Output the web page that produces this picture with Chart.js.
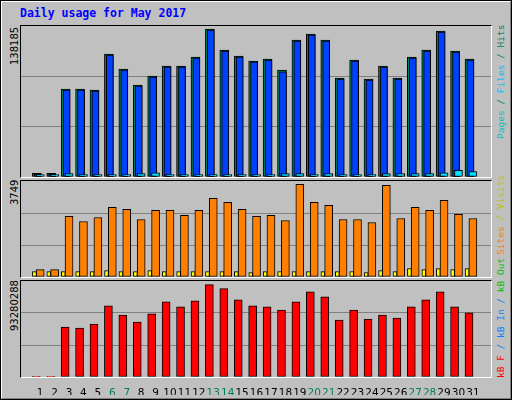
<!DOCTYPE html>
<html><head><meta charset="utf-8">
<script src="https://cdn.jsdelivr.net/npm/chart.js@4"></script>
<style>
body{margin:0;width:512px;height:400px;overflow:hidden;}
#wrap{position:absolute;left:0;top:0;width:508px;height:396px;background:#c0c0c0;border-top:2px solid #fff;border-left:2px solid #fff;border-right:2px solid #808080;border-bottom:2px solid #808080;outline:1px solid #000;outline-offset:-1px}
.panel{position:absolute;left:20px;width:470px;border-top:1px solid #000;border-left:1px solid #000;border-right:1px solid #fff;border-bottom:1px solid #fff}
canvas{position:absolute;}
.t{position:absolute;font-family:"DejaVu Sans Mono";font-weight:bold;font-size:11.5px;color:#0000ff;left:20px;top:6px}
.vl{position:absolute;font-family:"DejaVu Sans";font-size:10px;transform-origin:0 0;transform:rotate(-90deg);white-space:nowrap;color:#000}
.vr{position:absolute;font-family:"DejaVu Sans Mono";font-size:9.5px;transform-origin:0 0;transform:rotate(-90deg);white-space:nowrap}
</style></head><body>
<div id="wrap"></div>
<div class="t">Daily usage for May 2017</div>
<div class="panel" style="top:25px;height:151px"></div>
<div class="panel" style="top:180px;height:96px"></div>
<div class="panel" style="top:280px;height:96px"></div>
<canvas id="c1" width="470" height="151" style="left:21px;top:26px"></canvas>
<canvas id="c2" width="470" height="96" style="left:21px;top:181px"></canvas>
<canvas id="c3" width="470" height="114" style="left:21px;top:281px"></canvas>
<div class="vl" style="left:9px;top:65px">138185</div>
<div class="vl" style="left:9px;top:205px">3749</div>
<div class="vl" style="left:9px;top:331px">93280288</div>
<div class="vr" style="left:495px;top:139px"><span style="color:#00c0c0">Pages</span><span style="color:#00805c"> / </span><span style="color:#00c0ff">Files</span><span style="color:#00805c"> / Hits</span></div>
<div class="vr" style="left:495px;top:255px"><span style="color:#ff8000">Sites</span><span style="color:#c0c000"> / Visits</span></div>
<div class="vr" style="left:495px;top:378px"><span style="color:#ff0000">kB F</span><span style="color:#0080ff"> / kB In / </span><span style="color:#00c000">kB Out</span></div>
<script>
const days=[1,2,3,4,5,6,7,8,9,10,11,12,13,14,15,16,17,18,19,20,21,22,23,24,25,26,27,28,29,30,31];
const weekend=[6,7,13,14,20,21,27,28];
const hits=[3400,3400,82000,82000,81100,114800,100750,85800,94200,103560,103500,112000,138185,118500,112900,108200,110100,99800,127900,133500,127800,92300,109200,91400,103500,92300,112000,118500,136300,117600,110100];
const files=[2500,2500,81100,81100,80200,113900,99800,84900,93300,102600,102600,111100,137300,117600,112000,107300,109200,98200,127000,132600,127000,91400,108300,90500,102600,91400,111100,117600,135400,116700,109200];
const pages=[2200,2200,3100,2200,2200,2200,2200,3100,4000,2200,2200,2200,2200,2200,2200,2200,2200,3100,3100,2200,3100,2200,2200,2200,3100,3100,3100,3100,4000,6200,5000];
const sites=[298,298,2449,2246,2408,2814,2733,2327,2692,2692,2490,2692,3180,3017,2733,2449,2490,2287,3749,3017,2896,2327,2327,2205,3708,2368,2814,2692,3099,2530,2368];
const visits=[216,216,216,216,216,257,216,216,257,216,216,216,216,216,216,176,216,216,216,216,216,216,216,176,257,216,338,298,338,298,338];
const kbytes=[300000,300000,50400000,49400000,53400000,71800000,62600000,55500000,63700000,75900000,70800000,76900000,93280288,89200000,78000000,71800000,70800000,67700000,75900000,86100000,81000000,57500000,67700000,58600000,62600000,59600000,70800000,78000000,86100000,70800000,64700000];
const XMIN=0.195,XMAX=31.73;
function ds(vals,off,color,w){return{data:vals.map((v,i)=>({x:days[i]+off,y:v})),backgroundColor:color,borderColor:'#000',borderWidth:1,barThickness:w,grouped:false,borderSkipped:false};}
function make(id,sets,ymax,showX){
  const x={type:'linear',min:XMIN,max:XMAX,display:showX,grid:{display:false},border:{display:false},
       afterBuildTicks:a=>{a.ticks=days.map(d=>({value:d}));},
       ticks:{autoSkip:false,maxRotation:0,padding:2,font:{family:'DejaVu Sans',size:10.5},
         callback:v=>String(v),color:c=>weekend.includes(c.tick.value)?'#00805c':'#000'}};
  if(showX) x.afterFit=s=>{s.height=18;};
  return new Chart(document.getElementById(id),{type:'bar',data:{datasets:sets},
  options:{responsive:false,animation:false,devicePixelRatio:1,layout:{padding:0},
   plugins:{legend:{display:false},tooltip:{enabled:false}},
   scales:{x,
    y:{min:0,max:ymax,display:true,border:{display:false},
       afterBuildTicks:a=>{a.ticks=[0,ymax/3,2*ymax/3,ymax].map(v=>({value:v}));},
       afterFit:s=>{s.width=0;},
       ticks:{display:false},
       grid:{drawTicks:false,color:c=>(c.tick.value>0&&c.tick.value<ymax*0.99)?'#808080':'rgba(0,0,0,0)'}}
   }}});
}
make('c1',[ds(pages,0,'#00e0ff',8),ds(files,-0.17,'#0040ff',7),ds(hits,-0.235,'#00805c',9)],141000,false);
make('c2',[ds(sites,0,'#ff8000',8),ds(visits,-0.4,'#ffff00',4)],3883,false);
make('c3',[ds(kbytes,-0.27,'#ff0000',8)],96950000,true);
</script></body></html>
